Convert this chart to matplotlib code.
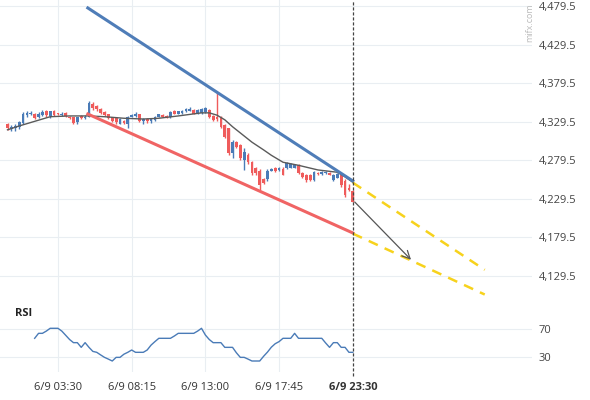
import matplotlib
matplotlib.use("Agg")
import matplotlib.pyplot as plt
import numpy as np

plt.rcParams['font.family'] = ['Open Sans', 'DejaVu Sans']

# Velas de 15 minutos (índice 0 = primera vela visible)
opens = [4327, 4320, 4321, 4323, 4328, 4338, 4339, 4340, 4336, 4338,
         4343, 4337, 4343, 4340, 4338, 4341, 4336, 4335, 4329, 4337,
         4334, 4336, 4353, 4350, 4346, 4342, 4339, 4335, 4334, 4327,
         4331, 4327, 4336, 4337, 4339, 4330, 4333, 4330, 4332, 4336,
         4338, 4337, 4335, 4344, 4340, 4341, 4343, 4344, 4345, 4340,
         4341, 4342, 4345, 4337, 4335, 4336, 4325, 4321, 4289, 4303,
         4299, 4280, 4287, 4277, 4270, 4266, 4255, 4255, 4266, 4270,
         4267, 4268, 4269, 4270, 4270, 4273, 4263, 4261, 4261, 4254,
         4263, 4262, 4263, 4263, 4254, 4257, 4260, 4253, 4243, 4240]
highs = [4328, 4325, 4326, 4331, 4342, 4343, 4344, 4341, 4342, 4345,
         4345, 4344, 4345, 4341, 4342, 4342, 4337, 4336, 4336, 4338,
         4338, 4356, 4355, 4351, 4347, 4343, 4340, 4336, 4335, 4334,
         4332, 4337, 4340, 4342, 4340, 4334, 4334, 4334, 4337, 4340,
         4339, 4338, 4343, 4345, 4344, 4345, 4347, 4348, 4346, 4346,
         4347, 4349, 4346, 4338, 4368, 4337, 4326, 4322, 4306, 4304,
         4301, 4295, 4289, 4279, 4271, 4268, 4256, 4268, 4270, 4271,
         4271, 4271, 4277, 4276, 4275, 4275, 4264, 4262, 4262, 4265,
         4264, 4265, 4265, 4264, 4262, 4263, 4262, 4255, 4249, 4241]
lows = [4319, 4317, 4318, 4320, 4326, 4336, 4338, 4333, 4334, 4337,
        4336, 4334, 4337, 4338, 4337, 4336, 4333, 4326, 4327, 4333,
        4333, 4335, 4345, 4344, 4340, 4337, 4333, 4329, 4327, 4326,
        4326, 4322, 4335, 4336, 4329, 4327, 4328, 4328, 4331, 4335,
        4335, 4334, 4334, 4339, 4339, 4340, 4342, 4343, 4339, 4339,
        4340, 4341, 4334, 4331, 4331, 4321, 4308, 4287, 4283, 4295,
        4280, 4267, 4275, 4261, 4261, 4241, 4249, 4253, 4265, 4264,
        4266, 4260, 4268, 4269, 4269, 4262, 4257, 4252, 4253, 4253,
        4261, 4261, 4262, 4260, 4253, 4256, 4245, 4232, 4240, 4225]
closes = [4321, 4323, 4324, 4329, 4340, 4341, 4341, 4334, 4340, 4342,
          4338, 4343, 4338, 4339, 4340, 4337, 4334, 4328, 4335, 4334,
          4336, 4354, 4347, 4346, 4341, 4338, 4334, 4331, 4329, 4333,
          4328, 4336, 4338, 4340, 4330, 4333, 4330, 4333, 4336, 4339,
          4336, 4335, 4342, 4340, 4343, 4344, 4346, 4346, 4340, 4345,
          4346, 4347, 4335, 4332, 4333, 4323, 4310, 4289, 4303, 4297,
          4283, 4290, 4277, 4263, 4263, 4248, 4250, 4266, 4268, 4265,
          4270, 4261, 4276, 4275, 4273, 4263, 4258, 4254, 4254, 4264,
          4262, 4264, 4264, 4261, 4261, 4262, 4247, 4235, 4241, 4226]

# Media móvil
ma_idx = [0, 3, 7, 11, 16, 21, 25, 30, 35, 39, 44, 50, 52, 54, 56, 58, 60,
          63, 66, 68, 71, 75, 80, 85, 87, 89]
ma_vals = [4319, 4324, 4330, 4336, 4337, 4337, 4336, 4334, 4333, 4334, 4337,
           4341, 4341, 4338, 4332, 4323, 4315, 4303, 4293, 4286, 4277, 4273,
           4267, 4264, 4258, 4251]

# Líneas de tendencia y proyecciones
upper_idx = [20.7, 89]
upper_vals = [4477, 4252.7]
lower_idx = [20.7, 89]
lower_vals = [4339.5, 4185.3]
upper_proj_idx = [89, 123]
upper_proj_vals = [4250.5, 4137.5]
lower_proj_idx = [89, 123]
lower_proj_vals = [4184.5, 4105.5]
arrow_start = (89, 4228)
arrow_end = (104.5, 4148)

# RSI
rsi_start = 7
rsi_vals = [56.7, 63.8, 63.8, 67, 71, 71, 71, 67, 61, 55,
            50.5, 50.5, 43.8, 50.5, 43.8, 38, 36.7, 33, 29.5, 27,
            24.3, 29.5, 29.5, 34, 36.7, 40, 36.7, 36.7, 36.7, 40,
            47, 52, 56.7, 56.7, 56.7, 56.7, 60, 63.8, 63.8, 63.8,
            63.8, 63.8, 67, 71, 61.4, 55, 50.5, 50.5, 50.5, 43.8,
            43.8, 43.8, 36, 29.5, 29.5, 27, 24.3, 24.3, 24.3, 31,
            37, 44, 49, 52, 56.7, 56.7, 56.7, 63.8, 56.7, 56.7,
            56.7, 56.7, 56.7, 56.7, 56.7, 50, 43.8, 50.5, 50.5, 43.8,
            43.8, 36.7, 36.7]

tick_idx = [13, 32, 51, 70]
tick_labels = ['6/9 03:30', '6/9 08:15', '6/9 13:00', '6/9 17:45']
last_idx = 89
last_label = '6/9 23:30'
price_ticks = [4129.5, 4179.5, 4229.5, 4279.5, 4329.5, 4379.5, 4429.5, 4479.5]
rsi_ticks = [30, 70]

BLUE = '#4a7bb7'
RED = '#ef5b5b'
GRID = '#e9eef2'
YELLOW = '#f7d21c'

W, H = 590, 400
fig = plt.figure(figsize=(W / 100, H / 100), dpi=100)
right_px = 532
x_lo = (0 - 7.5) / 3.88
x_hi = (right_px - 7.5) / 3.88

ax = fig.add_axes([0, 100 / H, right_px / W, 300 / H])
rsi_ax = fig.add_axes([0, 28 / H, right_px / W, 72 / H])

for a in (ax, rsi_ax):
    for s in a.spines.values():
        s.set_visible(False)
    a.set_xlim(x_lo, x_hi)
    a.tick_params(length=0, labelsize=8, colors='#444')
    a.yaxis.tick_right()
    for t in tick_idx:
        a.axvline(t, color=GRID, lw=0.8, zorder=0)

# Panel de precios
ax.set_ylim(4098.4, 4487.3)
ax.set_yticks(price_ticks)
ax.set_yticklabels([f'{v:,.1f}' for v in price_ticks])
ax.tick_params(axis='y', pad=5)
ax.set_xticks([])
for v in price_ticks:
    ax.axhline(v, color=GRID, lw=0.8, zorder=0)

idx = np.arange(len(opens))
o = np.array(opens)
c = np.array(closes)
colors = [BLUE if cc >= oo else RED for oo, cc in zip(o, c)]
ax.vlines(idx, lows, highs, colors=colors, lw=1, zorder=2)
ax.bar(idx, np.maximum(np.abs(c - o), 1.2), bottom=np.minimum(o, c),
       width=0.72, color=colors, zorder=3)

ax.plot(ma_idx, ma_vals, color='#5a5a5a', lw=1, zorder=4)
ax.plot(upper_idx, upper_vals, color='#4f7db8', lw=2.2, zorder=5)
ax.plot(lower_idx, lower_vals, color='#f06464', lw=2.2, zorder=5)
ax.plot(upper_proj_idx, upper_proj_vals, color=YELLOW, lw=1.8,
        dashes=(4, 3), zorder=5)
ax.plot(lower_proj_idx, lower_proj_vals, color=YELLOW, lw=1.8,
        dashes=(4, 3), zorder=5)
ax.annotate('', xy=arrow_end, xytext=arrow_start,
            arrowprops=dict(arrowstyle='->', color='#555555', lw=0.9,
                            mutation_scale=14), zorder=6)
ax.axvline(last_idx, color='#444', lw=0.9, dashes=(2.5, 1.5), zorder=6)

fig.text(530 / W, 1 - 23 / H, 'mifx.com', rotation=90, fontsize=6.5,
         color='#bbbbbb', ha='center', va='center')

# Panel RSI
rsi_ax.set_ylim(8.6, 111.4)
rsi_ax.set_yticks(rsi_ticks)
rsi_ax.set_yticklabels([str(v) for v in rsi_ticks])
rsi_ax.tick_params(axis='y', pad=5)
for v in rsi_ticks:
    rsi_ax.axhline(v, color=GRID, lw=0.8, zorder=0)
rsi_ax.plot(np.arange(rsi_start, rsi_start + len(rsi_vals)), rsi_vals,
            color=BLUE, lw=1)
rsi_ax.axvline(last_idx, ymin=-0.06, color='#444', lw=0.9, dashes=(2.5, 1.5),
               clip_on=False)
rsi_ax.set_xticks(tick_idx + [last_idx])
rsi_ax.set_xticklabels(tick_labels + [last_label])
rsi_ax.tick_params(axis='x', pad=7, colors='#333')
rsi_ax.get_xticklabels()[-1].set_fontweight('bold')
fig.text(15 / W, 1 - 314 / H, 'RSI', fontsize=8, fontweight='bold',
         color='#222', ha='left', va='center')

fig.savefig('out.png', dpi=100, facecolor='white')
